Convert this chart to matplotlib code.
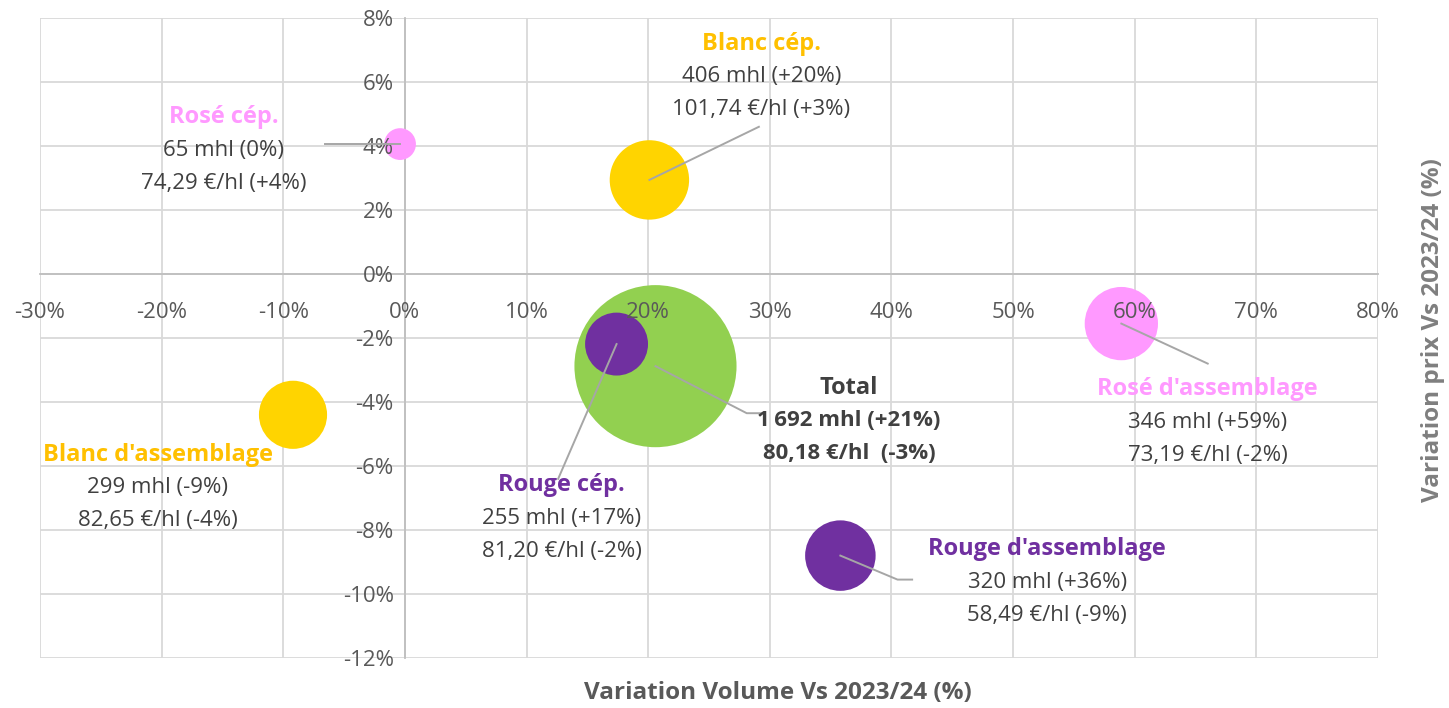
import matplotlib
matplotlib.use("Agg")
import matplotlib.pyplot as plt
from matplotlib.ticker import FuncFormatter

plt.rcParams['font.family'] = ['Open Sans', 'DejaVu Sans']

# ---- data ----
names = ["Rosé cép.", "Blanc cép.", "Total", "Rouge cép.",
         "Blanc d'assemblage", "Rosé d'assemblage", "Rouge d'assemblage"]
vol_var = [-0.4, 20.1, 20.6, 17.4, -9.2, 58.9, 35.8]      # x, %
price_var = [4.06, 2.94, -2.88, -2.19, -4.4, -1.55, -8.8]  # y, %
volumes = [65, 406, 1692, 255, 299, 346, 320]              # mhl
line1 = ["65 mhl (0%)", "406 mhl (+20%)", "1\u202f692 mhl (+21%)", "255 mhl (+17%)",
         "299 mhl (-9%)", "346 mhl (+59%)", "320 mhl (+36%)"]
line2 = ["74,29 €/hl (+4%)", "101,74 €/hl (+3%)", "80,18 €/hl  (-3%)", "81,20 €/hl (-2%)",
         "82,65 €/hl (-4%)", "73,19 €/hl (-2%)", "58,49 €/hl (-9%)"]
x_ticks = [-30, -20, -10, 0, 10, 20, 30, 40, 50, 60, 70, 80]
y_ticks = [-12, -10, -8, -6, -4, -2, 0, 2, 4, 6, 8]

# ---- style ----
fill_colors = ["#FF99FF", "#FFD400", "#92D050", "#7030A0", "#FFD400", "#FF99FF", "#7030A0"]
title_colors = ["#FF99FF", "#FFC000", "#404040", "#7030A0", "#FFC000", "#FF99FF", "#7030A0"]
# label anchor (x,y in data) for the 3-line label block (centre of title line)
label_pos = [(-14.9, 4.9), (29.3, 7.2), (36.5, -3.55), (12.9, -6.6),
             (-20.3, -5.65), (66.0, -3.6), (52.8, -8.6)]
# leader lines: list of points (data coords) from bubble to label
leaders = [[(-0.4, 4.06), (-6.6, 4.06)],
           [(20.1, 2.94), (29.1, 4.6)],
           [(20.6, -2.88), (28.1, -4.35), (29.6, -4.35)],
           [(17.4, -2.19), (12.6, -6.4)],
           None,
           [(58.9, -1.55), (66.0, -2.8)],
           [(35.8, -8.8), (40.5, -9.55), (41.7, -9.55)]]
bold_body = [False, False, True, False, False, False, False]

fig = plt.figure(figsize=(14.49, 7.08), dpi=100)
ax = fig.add_axes([40/1449, 1-658/708, (1378-40)/1449, (658-18)/708])

ax.set_xlim(-30, 80)
ax.set_ylim(-12, 8)
ax.set_xticks(x_ticks)
ax.set_yticks(y_ticks)
ax.xaxis.set_major_formatter(FuncFormatter(lambda v, p: f"{v:.0f}%"))
ax.yaxis.set_major_formatter(FuncFormatter(lambda v, p: f"{v:.0f}%"))
# gridlines drawn beneath the bubbles
for xv in x_ticks:
    ax.axvline(xv, color="#D9D9D9", linewidth=1.3, zorder=0.5)
for yv in y_ticks:
    ax.axhline(yv, color="#D9D9D9", linewidth=1.3, zorder=0.5)
for s in ["top", "right"]:
    ax.spines[s].set_visible(False)
ax.spines["left"].set_position(("data", 0))
ax.spines["bottom"].set_position(("data", 0))
for s in ["left", "bottom"]:
    ax.spines[s].set_color("#BFBFBF")
    ax.spines[s].set_linewidth(1.3)
    ax.spines[s].set_zorder(0.8)
ax.tick_params(axis="both", length=0, labelsize=16, labelcolor="#595959")
ax.tick_params(axis="x", pad=20)
ax.tick_params(axis="y", pad=8)
# tick labels drawn on top of the bubbles
ax.xaxis.set_zorder(3.5)
ax.yaxis.set_zorder(3.5)

# bubbles: area proportional to volume
sizes = [8.05 * v for v in volumes]
order = [2, 0, 1, 3, 4, 5, 6]
for i in order:
    ax.scatter(vol_var[i], price_var[i], s=sizes[i], color=fill_colors[i],
               edgecolors="none", zorder=2 if i != 2 else 1.5)

for i in range(len(names)):
    if leaders[i]:
        xs = [p[0] for p in leaders[i]]
        ys = [p[1] for p in leaders[i]]
        ax.plot(xs, ys, color="#A6A6A6", linewidth=1.4, zorder=4)
    lx, ly = label_pos[i]
    ax.annotate(names[i], (lx, ly), xytext=(0, 0), textcoords="offset points",
                ha="center", va="center", fontsize=17, fontweight="bold",
                color=title_colors[i], zorder=5)
    ax.annotate(line1[i], (lx, ly), xytext=(0, -23.8), textcoords="offset points",
                ha="center", va="center", fontsize=16,
                fontweight="bold" if bold_body[i] else "normal",
                color="#404040", zorder=5)
    ax.annotate(line2[i], (lx, ly), xytext=(0, -47.5), textcoords="offset points",
                ha="center", va="center", fontsize=16,
                fontweight="bold" if bold_body[i] else "normal",
                color="#404040", zorder=5)

fig.text(778/1449, 1-693/708, "Variation Volume Vs 2023/24 (%)", ha="center", va="center",
         fontsize=17.5, fontweight="bold", color="#595959")
fig.text(1433/1449, 1-330/708, "Variation prix Vs 2023/24 (%)", ha="center", va="center",
         rotation=90, fontsize=17.5, fontweight="bold", color="#7F7F7F")

fig.savefig("out.png", dpi=100)
